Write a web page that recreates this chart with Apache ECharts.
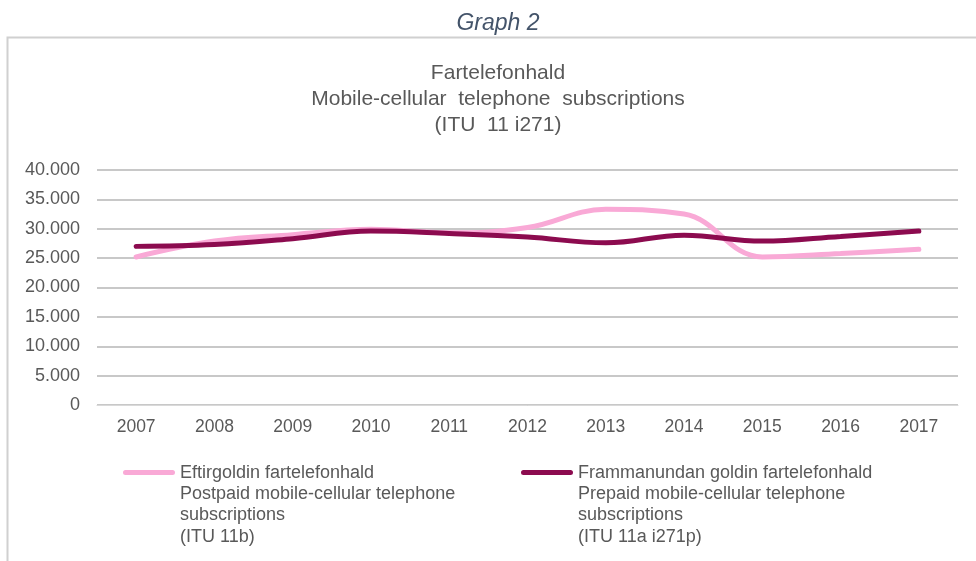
<!DOCTYPE html>
<html>
<head>
<meta charset="utf-8">
<script src="https://cdn.jsdelivr.net/npm/echarts@6/dist/echarts.min.js"></script>
<style>
html,body{margin:0;padding:0;background:#fff;}
#main{width:976px;height:561px;}
</style>
</head>
<body>
<div id="main"></div>
<script>
const categories = ['2007','2008','2009','2010','2011','2012','2013','2014','2015','2016','2017'];
const postpaid = [25200, 27900, 29000, 29900, 29300, 30200, 33300, 32500, 25200, 25800, 26500];
const prepaid  = [27000, 27300, 28300, 29600, 29200, 28600, 27600, 28900, 27900, 28700, 29600];
const postpaidName = 'Eftirgoldin fartelefonhald\nPostpaid mobile-cellular telephone\nsubscriptions\n(ITU 11b)';
const prepaidName = 'Frammanundan goldin fartelefonhald\nPrepaid mobile-cellular telephone\nsubscriptions\n(ITU 11a i271p)';
const titleText = 'Fartelefonhald\nMobile-cellular  telephone  subscriptions\n(ITU  11 i271)';

const chart = echarts.init(document.getElementById('main'));
const font = '"Liberation Sans", Arial, sans-serif';
// legend icon: a rounded stroke near the top of a tall (mostly empty) box so it sits beside the first text line
const legendIcon = 'path://M0,0 L0.05,0 L0.05,0.05 L0,0.05 Z M2.5,8 L49.5,8 A2.5,2.5 0 0 1 49.5,13 L2.5,13 A2.5,2.5 0 0 1 2.5,8 Z M0,84.95 L0.05,84.95 L0.05,85 L0,85 Z';

chart.setOption({
  animation: false,
  textStyle: {fontFamily: font},
  graphic: [
    {type: 'rect', shape: {x: 7.5, y: 37.5, width: 1000, height: 600}, style: {fill: 'none', stroke: '#D0D0D0', lineWidth: 2}, silent: true},
    {type: 'text', x: 498, y: 12, style: {text: 'Graph 2', font: 'italic 23px ' + font, fill: '#44546A', textAlign: 'center'}},
    {type: 'text', x: 498, y: 60, style: {text: titleText, fontFamily: font, fontSize: 21, lineHeight: 26, fill: '#595959', textAlign: 'center'}}
  ],
  grid: {left: 97, right: 18, top: 170, bottom: 156},
  xAxis: {
    type: 'category',
    data: categories,
    boundaryGap: true,
    axisLine: {show: true, lineStyle: {color: '#D9D9D9', width: 1}},
    axisTick: {show: false},
    axisLabel: {color: '#595959', fontSize: 17.5, margin: 13}
  },
  yAxis: {
    type: 'value',
    min: 0, max: 40000, interval: 5000,
    axisLine: {show: false},
    axisTick: {show: false},
    splitLine: {lineStyle: {color: '#C8C8C8', width: 2}},
    axisLabel: {
      color: '#595959', fontSize: 18, margin: 17,
      formatter: v => v === 0 ? '0' : (v/1000).toFixed(0) + '.000'
    }
  },
  legend: [
    {
      data: [{name: postpaidName, icon: legendIcon}],
      left: 123, top: 462, padding: 0, itemWidth: 52, itemHeight: 85, itemGap: 6,
      textStyle: {color: '#595959', fontSize: 18, lineHeight: 21.3},
      selectedMode: false
    },
    {
      data: [{name: prepaidName, icon: legendIcon}],
      left: 521, top: 462, padding: 0, itemWidth: 52, itemHeight: 85, itemGap: 6,
      textStyle: {color: '#595959', fontSize: 18, lineHeight: 21.3},
      selectedMode: false
    }
  ],
  series: [
    {
      name: postpaidName, type: 'line', data: postpaid, smooth: 0.4,
      showSymbol: false, symbol: 'none',
      lineStyle: {color: '#F9A9D6', width: 5, cap: 'round'},
      itemStyle: {color: '#F9A9D6'}
    },
    {
      name: prepaidName, type: 'line', data: prepaid, smooth: 0.4,
      showSymbol: false, symbol: 'none',
      lineStyle: {color: '#8C0B4F', width: 5, cap: 'round'},
      itemStyle: {color: '#8C0B4F'}
    }
  ]
});
</script>
</body>
</html>
